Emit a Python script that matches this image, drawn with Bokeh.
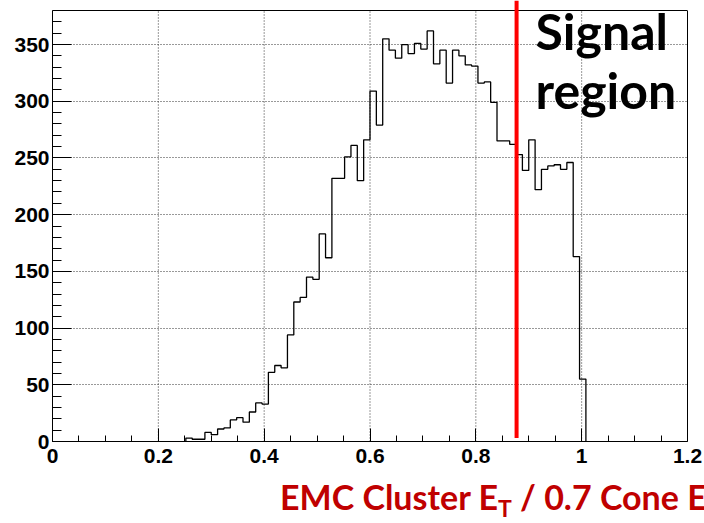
import numpy as np
from bokeh.plotting import figure
from bokeh.models import (FixedTicker, Label, Arrow, Range1d, Div, Span,
                          LinearAxis)
from bokeh.layouts import column
from bokeh.embed import file_html
from bokeh.resources import INLINE

# Histogram of EMC cluster E_T / 0.7 cone E_T: 100 bins on [0, 1.2],
# non-empty bins start at 0.252
bin_width = 0.012
first_edge = 0.252
counts = [3, 2, 2, 8, 6, 11, 12, 19, 21, 17,
          26, 34, 33, 61, 67, 65, 94, 123, 127, 145,
          143, 183, 162, 232, 232, 251, 261, 230, 266, 309,
          279, 355, 345, 338, 350, 342, 351, 346, 362, 333,
          345, 316, 345, 340, 332, 331, 316, 317, 299, 265,
          265, 262, 253, 239, 266, 222, 240, 243, 244, 240,
          246, 163, 55]

# cut defining the signal region
signal_cut = 0.877

x_ticks = [0, 0.2, 0.4, 0.6, 0.8, 1, 1.2]
x_tick_labels = ["0", "0.2", "0.4", "0.6", "0.8", "1", "1.2"]
x_minor = [0.05 * i for i in range(25)]
y_ticks = [0, 50, 100, 150, 200, 250, 300, 350]
y_minor = list(range(0, 381, 10))
y_max = 380

# step outline of the histogram
edges = first_edge + bin_width * np.arange(len(counts) + 1)
xs = np.repeat(edges, 2)
ys = np.concatenate([[0], np.repeat(counts, 2), [0]])

# the frame runs to the top of the canvas so the cut line can reach it;
# the histogram box itself stops 10 px lower, at y_max
frame_px, box_px = 441, 431
y_view_top = y_max * frame_px / box_px

p = figure(width=704, height=480, output_backend="svg", toolbar_location=None,
           x_range=Range1d(0, 1.2), y_range=Range1d(0, y_view_top),
           min_border_left=52, min_border_right=17,
           min_border_top=0, min_border_bottom=39)
p.background_fill_color = "white"
p.border_fill_color = "white"
p.outline_line_color = None

p.xaxis.ticker = FixedTicker(ticks=x_ticks, minor_ticks=x_minor)
p.xaxis.major_label_overrides = dict(zip(x_ticks, x_tick_labels))
p.yaxis.ticker = FixedTicker(ticks=y_ticks, minor_ticks=y_minor)
p.yaxis.bounds = (0, y_max)

for ax in (p.xaxis[0], p.yaxis[0]):
    ax.axis_line_color = "black"
    ax.major_tick_line_color = "black"
    ax.minor_tick_line_color = "black"
    ax.major_tick_out = 0
    ax.minor_tick_out = 0
    ax.major_label_text_font = "Liberation Sans"
    ax.major_label_text_font_style = "bold"
    ax.major_label_text_font_size = "21px"
    ax.major_label_text_color = "black"
p.xaxis.major_tick_in = 13
p.xaxis.minor_tick_in = 6
p.yaxis.major_tick_in = 19
p.yaxis.minor_tick_in = 9
p.xaxis.major_label_standoff = 7
p.yaxis.major_label_standoff = 3

# right and top edges of the box
p.add_layout(LinearAxis(bounds=(0, y_max), ticker=FixedTicker(ticks=[]),
                        axis_line_color="black", major_tick_in=0,
                        major_tick_out=0, minor_tick_in=0, minor_tick_out=0,
                        major_label_standoff=0,
                        major_label_text_font_size="0px"), "right")
p.add_layout(Span(location=y_max, dimension="width",
                  line_color="black", line_width=1))

# dotted grid inside the box
p.ygrid.grid_line_color = "#333333"
p.ygrid.grid_line_dash = "1 2"
p.ygrid.grid_line_width = 1
p.xgrid.visible = False
x_grid = x_ticks[1:-1]
p.segment(x0=x_grid, y0=[0] * len(x_grid), x1=x_grid, y1=[y_max] * len(x_grid),
          line_color="#333333", line_dash="1 2", line_width=1)

p.line(xs, ys, line_color="black", line_width=1.3)

# signal region boundary
p.add_layout(Arrow(end=None, x_start=signal_cut, y_start=3,
                   x_end=signal_cut, y_end=y_view_top,
                   line_color="#ff0000", line_width=4))

font = "Lato"
p.add_layout(Label(x=483, y=411, x_units="screen", y_units="screen",
                   text="Signal", text_font=font, text_font_style="bold",
                   text_font_size="50px", text_color="black",
                   text_baseline="alphabetic"))
p.add_layout(Label(x=483, y=352, x_units="screen", y_units="screen",
                   text="region", text_font=font, text_font_style="bold",
                   text_font_size="50px", text_color="black",
                   text_baseline="alphabetic"))

# x-axis title with subscripts, running off the right edge
sub = '<span style="font-size:23px;position:relative;top:7px;">T</span>'
title_html = (
    '<div style="width:704px;height:43px;overflow:hidden;white-space:nowrap;'
    'box-sizing:border-box;padding-left:280px;font-family:Lato;font-weight:bold;'
    'font-size:34px;line-height:34px;color:#C00000;">'
    'EMC Cluster E' + sub + ' / 0.7 Cone E' + sub +
    '</div>'
)
title_div = Div(text=title_html, width=704, height=43, margin=0)

layout = column(p, title_div, spacing=0)
open("out.html", "w").write(file_html(layout, INLINE))
